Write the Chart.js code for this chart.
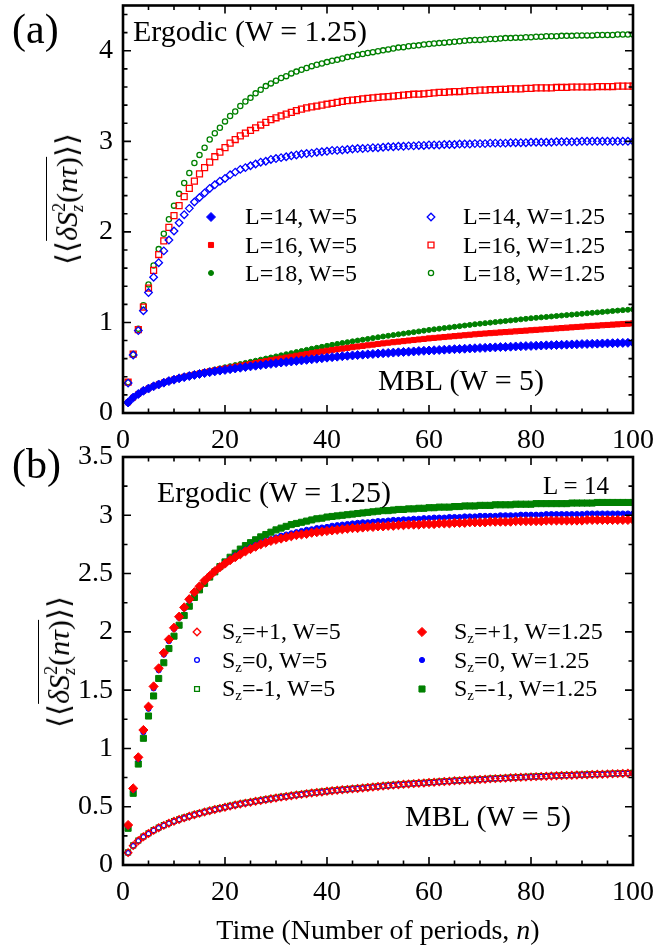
<!DOCTYPE html>
<html>
<head>
<meta charset="utf-8">
<script src="https://cdn.jsdelivr.net/npm/chart.js"></script>
<style>
  body { margin: 0; background: #fff; }
  #page { position: relative; width: 670px; height: 950px; font-family: 'Liberation Serif', 'Times New Roman', serif; color: #000; }
  canvas { position: absolute; left: 0; }
  .lbl { position: absolute; white-space: nowrap; line-height: 1; }
  .lbl sub { font-size: 0.62em; vertical-align: -0.3em; line-height: 0; }
  .ytitle { position: absolute; white-space: nowrap; line-height: 1; font-size: 30px; transform: translate(-50%, -50%) rotate(-90deg); }
  .ov { display: inline-block; border-top: 1.5px solid #000; padding-top: 3px; line-height: 1; }
  .sc { display: inline-block; font-size: 0.6em; line-height: 1; vertical-align: -0.35em; }
  .sc span { display: block; }
</style>
</head>
<body>
<div id="page">
  <canvas id="chartA" width="670" height="460" style="top:0"></canvas>
  <canvas id="chartB" width="670" height="520" style="top:430px"></canvas>

  <div class="lbl" style="left:12px; top:8px; font-size:42px">(a)</div>
  <div class="lbl" style="left:12px; top:443px; font-size:42px">(b)</div>

  <div class="lbl" style="left:133px; top:16px; font-size:30px">Ergodic (W = 1.25)</div>
  <div class="lbl" style="left:378px; top:365px; font-size:30px">MBL (W = 5)</div>
  <div class="lbl" style="left:157px; top:477px; font-size:30px">Ergodic (W = 1.25)</div>
  <div class="lbl" style="left:543px; top:473px; font-size:25px">L = 14</div>
  <div class="lbl" style="left:405px; top:801px; font-size:30px">MBL (W = 5)</div>

  <div class="lbl" style="left:245px; top:204px; font-size:24px">L=14, W=5</div>
  <div class="lbl" style="left:245px; top:233px; font-size:24px">L=16, W=5</div>
  <div class="lbl" style="left:245px; top:261px; font-size:24px">L=18, W=5</div>
  <div class="lbl" style="left:463px; top:204px; font-size:24px">L=14, W=1.25</div>
  <div class="lbl" style="left:463px; top:233px; font-size:24px">L=16, W=1.25</div>
  <div class="lbl" style="left:463px; top:261px; font-size:24px">L=18, W=1.25</div>

  <div class="lbl" style="left:222px; top:619px; font-size:24px">S<sub>z</sub>=+1, W=5</div>
  <div class="lbl" style="left:222px; top:648px; font-size:24px">S<sub>z</sub>=0, W=5</div>
  <div class="lbl" style="left:222px; top:676px; font-size:24px">S<sub>z</sub>=-1, W=5</div>
  <div class="lbl" style="left:454px; top:619px; font-size:24px">S<sub>z</sub>=+1, W=1.25</div>
  <div class="lbl" style="left:454px; top:648px; font-size:24px">S<sub>z</sub>=0, W=1.25</div>
  <div class="lbl" style="left:454px; top:676px; font-size:24px">S<sub>z</sub>=-1, W=1.25</div>

  <div class="ytitle" style="left:66px; top:199px">⟨⟨<span class="ov"><i>δS</i><span class="sc"><span>2</span><span><i>z</i></span></span>(<i>nτ</i>)</span>⟩⟩</div>
  <div class="ytitle" style="left:58px; top:662px">⟨⟨<span class="ov"><i>δS</i><span class="sc"><span>2</span><span><i>z</i></span></span>(<i>nτ</i>)</span>⟩⟩</div>

  <div class="lbl" style="left:378px; top:916px; font-size:28px; transform:translateX(-50%)">Time (Number of periods, <i>n</i>)</div>
</div>

<script>
// number of driving periods
const periods = [
  1,2,3,4,5,6,7,8,9,10, 11,12,13,14,15,16,17,18,19,20,
  21,22,23,24,25,26,27,28,29,30, 31,32,33,34,35,36,37,38,39,40,
  41,42,43,44,45,46,47,48,49,50, 51,52,53,54,55,56,57,58,59,60,
  61,62,63,64,65,66,67,68,69,70, 71,72,73,74,75,76,77,78,79,80,
  81,82,83,84,85,86,87,88,89,90, 91,92,93,94,95,96,97,98,99,100
];

// (a) MBL, W=5
const aL14W5 = [
  .116,.17,.21,.245,.27,.295,.315,.335,.352,.368,
  .383,.396,.408,.42,.431,.441,.451,.46,.468,.476,
  .484,.492,.50,.508,.515,.522,.529,.536,.543,.55,
  .557,.563,.569,.575,.581,.587,.593,.599,.605,.611,
  .617,.622,.627,.632,.636,.64,.644,.648,.652,.656,
  .66,.663,.667,.67,.674,.677,.68,.684,.687,.69,
  .693,.696,.699,.702,.705,.707,.71,.713,.715,.718,
  .72,.723,.725,.728,.73,.732,.735,.737,.739,.741,
  .743,.745,.747,.749,.751,.753,.755,.757,.759,.761,
  .763,.764,.766,.768,.769,.771,.772,.774,.775,.777
];
const aL16W5 = [
  .116,.17,.21,.245,.272,.297,.318,.338,.355,.371,
  .386,.40,.413,.425,.437,.45,.461,.471,.482,.492,
  .502,.512,.522,.532,.542,.552,.562,.572,.582,.592,
  .602,.612,.622,.632,.642,.651,.66,.669,.678,.687,
  .695,.703,.711,.719,.727,.734,.741,.748,.755,.762,
  .769,.776,.782,.788,.794,.80,.806,.812,.818,.824,
  .829,.834,.839,.844,.849,.854,.859,.864,.869,.874,
  .878,.882,.886,.89,.894,.898,.902,.906,.91,.914,
  .918,.922,.926,.93,.934,.938,.942,.946,.95,.954,
  .958,.962,.965,.969,.972,.976,.979,.983,.986,.99
];
const aL18W5 = [
  .116,.17,.21,.245,.273,.298,.32,.34,.358,.375,
  .39,.405,.419,.432,.445,.457,.469,.481,.493,.505,
  .517,.529,.541,.553,.565,.577,.589,.601,.613,.625,
  .637,.649,.661,.673,.685,.697,.709,.72,.731,.742,
  .753,.763,.773,.782,.791,.80,.809,.818,.827,.836,
  .845,.853,.861,.869,.877,.885,.893,.901,.909,.917,
  .924,.931,.938,.945,.952,.959,.966,.973,.98,.986,
  .992,.998,1.004,1.01,1.016,1.022,1.028,1.034,1.04,1.046,
  1.051,1.056,1.061,1.066,1.071,1.076,1.081,1.086,1.091,1.096,
  1.101,1.106,1.111,1.116,1.121,1.126,1.131,1.136,1.14,1.145
];

// (a) ergodic, W=1.25
const aL14W125 = [
  .33,.64,.91,1.13,1.33,1.50,1.66,1.79,1.91,2.01,
  2.10,2.19,2.26,2.33,2.38,2.43,2.48,2.52,2.56,2.59,
  2.63,2.66,2.69,2.71,2.73,2.75,2.77,2.78,2.80,2.81,
  2.82,2.83,2.84,2.85,2.86,2.865,2.87,2.88,2.885,2.89,
  2.90,2.90,2.905,2.91,2.915,2.92,2.92,2.925,2.93,2.93,
  2.935,2.94,2.94,2.945,2.945,2.95,2.95,2.955,2.955,2.96,
  2.96,2.96,2.965,2.965,2.965,2.97,2.97,2.97,2.975,2.975,
  2.975,2.98,2.98,2.98,2.98,2.985,2.985,2.985,2.985,2.99,
  2.99,2.99,2.99,2.99,2.995,2.995,2.995,2.995,2.995,3.0,
  3.0,3.0,3.0,3.0,3.0,3.0,3.0,3.0,3.0,3.0
];
const aL16W125 = [
  .34,.65,.92,1.17,1.38,1.575,1.75,1.90,2.05,2.18,
  2.29,2.39,2.48,2.56,2.64,2.71,2.77,2.83,2.88,2.93,
  2.98,3.02,3.06,3.09,3.12,3.15,3.18,3.21,3.24,3.26,
  3.28,3.30,3.32,3.34,3.355,3.37,3.38,3.39,3.40,3.41,
  3.42,3.43,3.44,3.45,3.455,3.46,3.47,3.475,3.48,3.485,
  3.49,3.495,3.50,3.505,3.51,3.515,3.52,3.52,3.525,3.53,
  3.535,3.54,3.54,3.545,3.55,3.55,3.555,3.56,3.56,3.565,
  3.565,3.57,3.57,3.575,3.575,3.58,3.58,3.58,3.585,3.585,
  3.59,3.59,3.59,3.59,3.595,3.595,3.595,3.60,3.60,3.60,
  3.60,3.60,3.605,3.605,3.605,3.605,3.61,3.61,3.61,3.61
];
const aL18W125 = [
  .34,.65,.93,1.19,1.42,1.63,1.81,1.98,2.14,2.29,
  2.42,2.54,2.65,2.76,2.85,2.93,3.02,3.09,3.15,3.22,
  3.28,3.33,3.39,3.44,3.48,3.53,3.57,3.61,3.64,3.67,
  3.70,3.72,3.75,3.77,3.79,3.81,3.83,3.845,3.86,3.875,
  3.89,3.90,3.915,3.93,3.94,3.955,3.965,3.975,3.985,3.995,
  4.005,4.015,4.025,4.035,4.04,4.05,4.055,4.06,4.07,4.075,
  4.08,4.085,4.09,4.095,4.10,4.105,4.11,4.115,4.12,4.12,
  4.125,4.13,4.13,4.135,4.14,4.14,4.145,4.145,4.15,4.15,
  4.155,4.155,4.16,4.16,4.16,4.165,4.165,4.165,4.17,4.17,
  4.17,4.17,4.175,4.175,4.175,4.175,4.18,4.18,4.18,4.18
];

// (b) L=14, ergodic W=1.25
const bP1W125 = [
  .343,.657,.924,1.158,1.358,1.532,1.687,1.82,1.935,2.035,
  2.13,2.21,2.28,2.34,2.39,2.44,2.48,2.52,2.555,2.585,
  2.615,2.64,2.665,2.69,2.71,2.73,2.75,2.765,2.78,2.79,
  2.80,2.81,2.82,2.83,2.835,2.84,2.85,2.855,2.86,2.865,
  2.87,2.875,2.88,2.885,2.89,2.89,2.895,2.90,2.90,2.905,
  2.905,2.91,2.91,2.915,2.915,2.92,2.92,2.92,2.925,2.925,
  2.925,2.93,2.93,2.93,2.935,2.935,2.935,2.94,2.94,2.94,
  2.94,2.945,2.945,2.945,2.945,2.945,2.95,2.95,2.95,2.95,
  2.95,2.95,2.955,2.955,2.955,2.955,2.955,2.955,2.955,2.955,
  2.96,2.96,2.96,2.96,2.96,2.96,2.96,2.96,2.96,2.96
];
const b0W125 = [
  .335,.645,.91,1.14,1.34,1.515,1.67,1.805,1.92,2.025,
  2.12,2.20,2.27,2.335,2.39,2.44,2.485,2.525,2.56,2.595,
  2.625,2.655,2.68,2.705,2.725,2.745,2.765,2.78,2.795,2.81,
  2.825,2.835,2.845,2.855,2.865,2.875,2.88,2.89,2.895,2.90,
  2.91,2.915,2.92,2.925,2.93,2.935,2.94,2.94,2.945,2.95,
  2.95,2.955,2.96,2.96,2.965,2.965,2.97,2.97,2.975,2.975,
  2.98,2.98,2.98,2.985,2.985,2.985,2.99,2.99,2.99,2.995,
  2.995,2.995,2.995,3.0,3.0,3.0,3.0,3.005,3.005,3.005,
  3.005,3.005,3.01,3.01,3.01,3.01,3.01,3.01,3.01,3.01,
  3.015,3.015,3.015,3.015,3.015,3.015,3.015,3.015,3.015,3.015
];
const bM1W125 = [
  .315,.615,.866,1.087,1.278,1.45,1.60,1.735,1.857,1.963,
  2.057,2.14,2.22,2.295,2.36,2.416,2.47,2.515,2.56,2.60,
  2.64,2.675,2.71,2.74,2.765,2.79,2.815,2.835,2.855,2.875,
  2.89,2.905,2.92,2.93,2.94,2.95,2.96,2.97,2.975,2.985,
  2.99,2.995,3.0,3.005,3.01,3.015,3.02,3.025,3.03,3.035,
  3.04,3.04,3.045,3.05,3.05,3.055,3.055,3.06,3.06,3.065,
  3.065,3.07,3.07,3.07,3.075,3.075,3.08,3.08,3.08,3.085,
  3.085,3.085,3.09,3.09,3.09,3.09,3.095,3.095,3.095,3.095,
  3.10,3.10,3.10,3.10,3.10,3.10,3.10,3.105,3.105,3.105,
  3.105,3.105,3.11,3.11,3.11,3.11,3.11,3.11,3.11,3.11
];

// (b) L=14, MBL W=5
const bP1W5 = [
  .106,.166,.208,.243,.27,.297,.32,.34,.358,.375,
  .39,.404,.418,.431,.443,.455,.466,.476,.486,.496,
  .505,.514,.523,.531,.539,.547,.554,.561,.568,.575,
  .582,.588,.594,.60,.606,.612,.617,.622,.627,.632,
  .637,.641,.645,.649,.653,.657,.661,.665,.669,.673,
  .677,.681,.685,.689,.692,.695,.698,.701,.704,.707,
  .71,.713,.716,.719,.722,.724,.727,.729,.732,.734,
  .736,.739,.741,.743,.745,.748,.75,.752,.754,.756,
  .758,.76,.762,.764,.765,.767,.769,.77,.772,.773,
  .775,.776,.778,.779,.781,.782,.784,.785,.787,.788
];
const b0W5 = [
  .104,.164,.206,.241,.268,.295,.318,.338,.356,.373,
  .388,.402,.416,.429,.441,.453,.464,.474,.484,.494,
  .503,.512,.521,.529,.537,.545,.552,.559,.566,.573,
  .58,.586,.592,.598,.604,.61,.615,.62,.625,.63,
  .635,.639,.643,.647,.651,.655,.659,.663,.667,.671,
  .675,.679,.683,.687,.69,.693,.696,.699,.702,.705,
  .708,.711,.714,.717,.72,.722,.725,.727,.73,.732,
  .734,.737,.739,.741,.743,.746,.748,.75,.752,.754,
  .756,.758,.76,.762,.763,.765,.767,.768,.77,.771,
  .773,.774,.776,.777,.779,.78,.782,.783,.785,.786
];
const bM1W5 = [
  .108,.168,.21,.245,.272,.299,.322,.342,.36,.377,
  .392,.406,.42,.433,.445,.457,.468,.478,.488,.498,
  .507,.516,.525,.533,.541,.549,.556,.563,.57,.577,
  .584,.59,.596,.602,.608,.614,.619,.624,.629,.634,
  .639,.643,.647,.651,.655,.659,.663,.667,.671,.675,
  .679,.683,.687,.691,.694,.697,.70,.703,.706,.709,
  .712,.715,.718,.721,.724,.726,.729,.731,.734,.736,
  .738,.741,.743,.745,.747,.75,.752,.754,.756,.758,
  .76,.762,.764,.766,.767,.769,.771,.772,.774,.775,
  .777,.778,.78,.781,.783,.784,.786,.787,.789,.79
];

const xTicks = [0, 20, 40, 60, 80, 100];
const yTicksA = [0, 1, 2, 3, 4];
const yTicksB = [0, 0.5, 1, 1.5, 2, 2.5, 3, 3.5];

const BLUE = '#0000ff', RED = '#ff0000', GREEN = '#008000';
const tickFont = { family: "'Liberation Serif', 'Times New Roman', serif", size: 28 };

let series = function(label, values, color, style, radius, filled) {
    return {
        label: label,
        data: periods.map((n, i) => ({ x: n, y: values[i] })),
        pointStyle: style,
        pointRadius: radius,
        pointBorderWidth: filled ? 1 : 1.3,
        pointBorderColor: color,
        pointBackgroundColor: filled ? color : 'rgba(0,0,0,0)',
    };
};

// box, inward major/minor ticks on all four sides, and the marker column of the legend
const frame = {
    id: 'frame',
    afterDatasetsDraw(chart, args, o) {
        const ctx = chart.ctx, a = chart.chartArea;
        const x = chart.scales.x, y = chart.scales.y;
        const isMajor = (v, step) => Math.abs(v / step - Math.round(v / step)) < 1e-6;
        ctx.save();
        ctx.strokeStyle = '#000';
        ctx.lineWidth = 1.6;
        ctx.beginPath();
        for (let i = 0; x.min + i * o.xMinor <= x.max + 1e-9; i++) {
            const v = x.min + i * o.xMinor;
            const len = isMajor(v, o.xMajor) ? 8 : 4.5;
            const px = x.getPixelForValue(v);
            ctx.moveTo(px, a.bottom); ctx.lineTo(px, a.bottom - len);
            ctx.moveTo(px, a.top); ctx.lineTo(px, a.top + len);
        }
        for (let i = 0; y.min + i * o.yMinor <= y.max + 1e-9; i++) {
            const v = y.min + i * o.yMinor;
            const len = isMajor(v, o.yMajor) ? 8 : 4.5;
            const py = y.getPixelForValue(v);
            ctx.moveTo(a.left, py); ctx.lineTo(a.left + len, py);
            ctx.moveTo(a.right, py); ctx.lineTo(a.right - len, py);
        }
        ctx.stroke();
        ctx.lineWidth = 2.6;
        ctx.strokeRect(a.left, a.top, a.right - a.left, a.bottom - a.top);

        o.legend.forEach(item => {
            const ds = chart.data.datasets[item.ds];
            ctx.fillStyle = ds.pointBackgroundColor;
            ctx.strokeStyle = ds.pointBorderColor;
            ctx.lineWidth = ds.pointBorderWidth;
            Chart.helpers.drawPoint(ctx, {
                pointStyle: ds.pointStyle, radius: ds.pointRadius,
                borderWidth: ds.pointBorderWidth, rotation: 0
            }, item.x, item.y);
        });
        ctx.restore();
    }
};

let makePanel = function(id, datasets, yMax, yTicks, yMinor, yMajor, pad, xHeight, legend) {
    new Chart(document.getElementById(id), {
        type: 'scatter',
        data: { datasets: datasets },
        options: {
            responsive: false,
            animation: false,
            events: [],
            layout: { padding: { top: pad, right: 37, left: 0, bottom: 0 } },
            plugins: {
                legend: { display: false },
                tooltip: { enabled: false },
                frame: { xMinor: 5, xMajor: 20, yMinor: yMinor, yMajor: yMajor, legend: legend },
            },
            scales: {
                x: {
                    type: 'linear', min: 0, max: 100,
                    afterBuildTicks: s => { s.ticks = xTicks.map(v => ({ value: v })); },
                    afterFit: s => { s.height = xHeight; s.paddingLeft = 0; s.paddingRight = 0; },
                    grid: { display: false, drawTicks: false },
                    border: { display: false },
                    ticks: { font: tickFont, color: '#000', padding: 11, maxRotation: 0, autoSkip: false },
                },
                y: {
                    type: 'linear', min: 0, max: yMax,
                    afterBuildTicks: s => { s.ticks = yTicks.map(v => ({ value: v })); },
                    afterFit: s => { s.width = 123; s.paddingTop = 0; s.paddingBottom = 0; },
                    grid: { display: false, drawTicks: false },
                    border: { display: false },
                    ticks: { font: tickFont, color: '#000', padding: 10, autoSkip: false, callback: v => String(v) },
                },
            },
        },
        plugins: [frame],
    });
};

let makeChart = function() {
    makePanel('chartA', [
        series('L=14, W=5', aL14W5, BLUE, 'rectRot', 4.5, true),
        series('L=16, W=5', aL16W5, RED, 'rect', 3.6, true),
        series('L=18, W=5', aL18W5, GREEN, 'circle', 2.5, true),
        series('L=14, W=1.25', aL14W125, BLUE, 'rectRot', 3.8, false),
        series('L=16, W=1.25', aL16W125, RED, 'rect', 4.2, false),
        series('L=18, W=1.25', aL18W125, GREEN, 'circle', 2.6, false),
    ], 4.5, yTicksA, 0.2, 1, 3, 47, [
        { ds: 0, x: 211, y: 217 }, { ds: 1, x: 211, y: 245 }, { ds: 2, x: 211, y: 273 },
        { ds: 3, x: 431, y: 217 }, { ds: 4, x: 431, y: 245 }, { ds: 5, x: 431, y: 273 },
    ]);

    // canvas B starts 430px down the page
    makePanel('chartB', [
        series('Sz=+1, W=1.25', bP1W125, RED, 'rectRot', 4.6, true),
        series('Sz=0, W=1.25', b0W125, BLUE, 'circle', 2.6, true),
        series('Sz=-1, W=1.25', bM1W125, GREEN, 'rect', 4.3, true),
        series('Sz=+1, W=5', bP1W5, RED, 'rectRot', 3.8, false),
        series('Sz=0, W=5', b0W5, BLUE, 'circle', 2.4, false),
        series('Sz=-1, W=5', bM1W5, GREEN, 'rect', 3.4, false),
    ], 3.5, yTicksB, 0.25, 0.5, 27, 85, [
        { ds: 3, x: 197, y: 202 }, { ds: 4, x: 197, y: 230 }, { ds: 5, x: 197, y: 259 },
        { ds: 0, x: 422, y: 202 }, { ds: 1, x: 422, y: 230 }, { ds: 2, x: 422, y: 259 },
    ]);
};

document.addEventListener('DOMContentLoaded', makeChart, false);
</script>
</body>
</html>
